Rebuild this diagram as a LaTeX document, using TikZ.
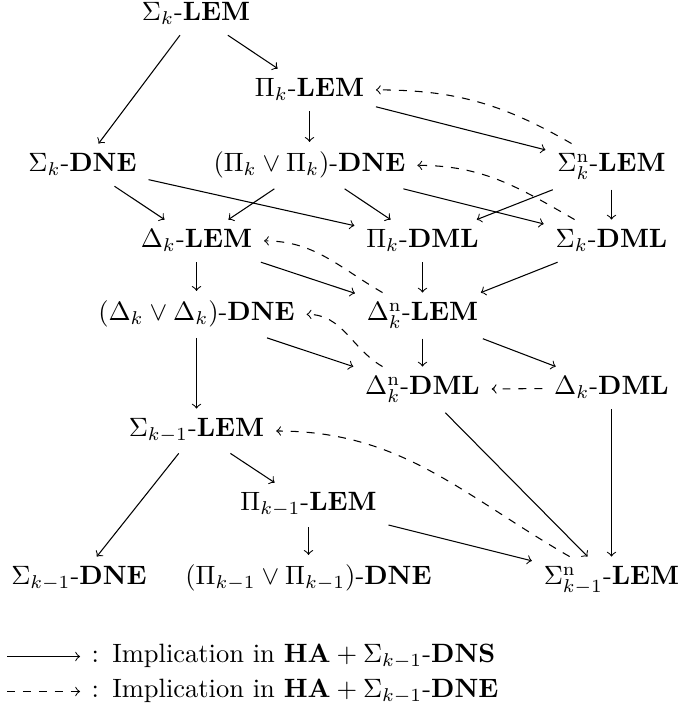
\documentclass[tikz,border=0pt]{standalone}
\usepackage{amsmath,amssymb}
\begin{document}
\begin{tikzpicture}[x=0.3774pt,y=0.3774pt,
  cell/.style={inner xsep=1ex,inner ysep=0.85ex,anchor=base},
  arr/.style={->,line width=0.4pt},
  darr/.style={->,dashed,line width=0.4pt}]
\useasboundingbox (0,0) rectangle (681,710);
% nodes (x = centre, y = baseline)
\node[cell] (SL)    at (196,689) {$\Sigma_k$-$\mathbf{LEM}$};
\node[cell] (PL)    at (309.5,613) {$\Pi_k$-$\mathbf{LEM}$};
\node[cell] (SD)    at (82.5,538) {$\Sigma_k$-$\mathbf{DNE}$};
\node[cell] (PPD)   at (309.5,538) {$(\Pi_k\vee\Pi_k)$-$\mathbf{DNE}$};
\node[cell] (SnL)   at (611.5,538) {$\Sigma^{\mathrm{n}}_k$-$\mathbf{LEM}$};
\node[cell] (DL)    at (196.5,462) {$\Delta_k$-$\mathbf{LEM}$};
\node[cell] (PDML)  at (422.5,462) {$\Pi_k$-$\mathbf{DML}$};
\node[cell] (SDML)  at (611.5,462) {$\Sigma_k$-$\mathbf{DML}$};
\node[cell] (DDD)   at (196.5,389) {$(\Delta_k\vee\Delta_k)$-$\mathbf{DNE}$};
\node[cell] (DnL)   at (422.5,389) {$\Delta^{\mathrm{n}}_k$-$\mathbf{LEM}$};
\node[cell] (DnDML) at (422.5,315) {$\Delta^{\mathrm{n}}_k$-$\mathbf{DML}$};
\node[cell] (DDML)  at (611.5,315) {$\Delta_k$-$\mathbf{DML}$};
\node[cell] (S1L)   at (196.5,273) {$\Sigma_{k-1}$-$\mathbf{LEM}$};
\node[cell] (P1L)   at (308.5,199) {$\Pi_{k-1}$-$\mathbf{LEM}$};
\node[cell] (S1D)   at (79,125) {$\Sigma_{k-1}$-$\mathbf{DNE}$};
\node[cell] (PP1D)  at (308.5,125) {$(\Pi_{k-1}\vee\Pi_{k-1})$-$\mathbf{DNE}$};
\node[cell] (Sn1L)  at (611.5,125) {$\Sigma^{\mathrm{n}}_{k-1}$-$\mathbf{LEM}$};
% solid arrows
\draw[arr] (SL) -- (PL);
\draw[arr] (SL) -- (SD);
\draw[arr] (PL) -- (PPD);
\draw[arr] (PL) -- (SnL);
\draw[arr] (SD) -- (DL);
\draw[arr] (SD) -- (PDML);
\draw[arr] (PPD) -- (DL);
\draw[arr] (PPD) -- (PDML);
\draw[arr] (PPD) -- (SDML);
\draw[arr] (SnL) -- (PDML);
\draw[arr] (SnL) -- (SDML);
\draw[arr] (DL) -- (DDD);
\draw[arr] (DL) -- (DnL);
\draw[arr] (PDML) -- (DnL);
\draw[arr] (SDML) -- (DnL);
\draw[arr] (DDD) -- (S1L);
\draw[arr] (DDD) -- (DnDML);
\draw[arr] (DnL) -- (DnDML);
\draw[arr] (DnL) -- (DDML);
\draw[arr] (DnDML) -- (Sn1L);
\draw[arr] (DDML) -- (Sn1L);
\draw[arr] (S1L) -- (S1D);
\draw[arr] (S1L) -- (P1L);
\draw[arr] (P1L) -- (PP1D);
\draw[arr] (P1L) -- (Sn1L);
% dashed arrows
\draw[darr] (SnL) to[out=150,in=0] (PL);
\draw[darr] (SDML) to[out=150,in=0] (PPD);
\draw[darr] (DnL) to[out=150,in=0] (DL);
\draw[darr] (DnDML) to[out=150,in=0] (DDD);
\draw[darr] (DDML) -- (DnDML);
\draw[darr] (Sn1L) to[out=150,in=0] (S1L);
% legend
\coordinate (a1) at (7,53.5);
\coordinate (a2) at (80,53.5);
\coordinate (b1) at (7,18.5);
\coordinate (b2) at (80,18.5);
\draw[arr] (a1) -- (a2);
\draw[darr] (b1) -- (b2);
\node[anchor=west,inner sep=0pt] (la) at ([xshift=4.2pt]a2) {$:$\hspace{5pt}Implication in $\mathbf{HA}+\Sigma_{k-1}$-$\mathbf{DNS}$};
\node[anchor=west,inner sep=0pt] (lb) at ([xshift=4.2pt]b2) {$:$\hspace{5pt}Implication in $\mathbf{HA}+\Sigma_{k-1}$-$\mathbf{DNE}$};
\end{tikzpicture}
\end{document}
